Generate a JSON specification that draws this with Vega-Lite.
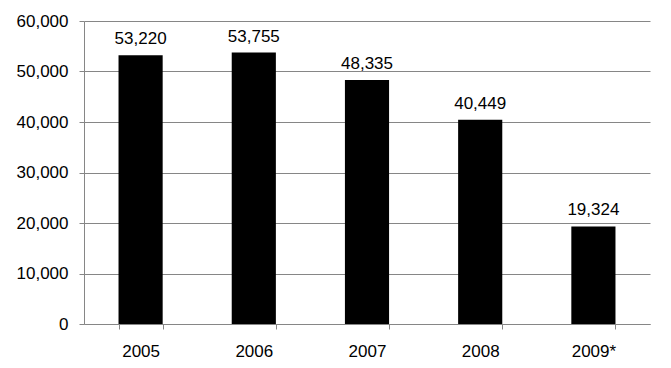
{
  "$schema": "https://vega.github.io/schema/vega-lite/v6.json",
  "autosize": "none",
  "width": 566,
  "height": 303,
  "padding": {"left": 84, "top": 21, "right": 21, "bottom": 44},
  "background": "white",
  "config": {
    "view": {"stroke": null},
    "font": "Liberation Sans",
    "axis": {
      "labelFont": "Liberation Sans",
      "labelFontSize": 17,
      "labelColor": "black",
      "domainColor": "#868686",
      "tickColor": "#868686",
      "gridColor": "#868686",
      "tickSize": 5,
      "title": null
    }
  },
  "data": {
    "values": [
      {"year": "2005", "value": 53220},
      {"year": "2006", "value": 53755},
      {"year": "2007", "value": 48335},
      {"year": "2008", "value": 40449},
      {"year": "2009*", "value": 19324}
    ]
  },
  "encoding": {
    "x": {
      "field": "year",
      "type": "nominal",
      "sort": null,
      "scale": {"paddingInner": 0.61, "paddingOuter": 0.305},
      "axis": {
        "labelAngle": 0,
        "tickBand": "extent",
        "grid": false,
        "labelBaseline": "alphabetic",
        "labelPadding": 27
      }
    },
    "y": {
      "field": "value",
      "type": "quantitative",
      "scale": {"domain": [0, 60000], "nice": false},
      "axis": {
        "values": [0, 10000, 20000, 30000, 40000, 50000, 60000],
        "format": ",.0f",
        "grid": true,
        "labelPadding": 11
      }
    }
  },
  "layer": [
    {"mark": {"type": "bar", "color": "black"}},
    {
      "mark": {"type": "text", "fontSize": 17, "color": "black", "baseline": "alphabetic", "dy": -11, "font": "Liberation Sans"},
      "encoding": {"text": {"field": "value", "type": "quantitative", "format": ","}}
    }
  ]
}
